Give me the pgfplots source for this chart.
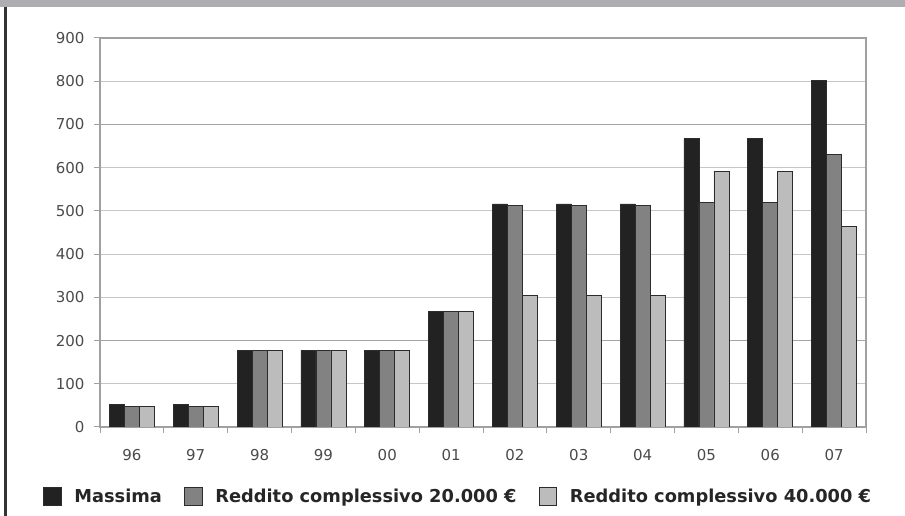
\documentclass[border=0pt]{standalone}
\usepackage{pgfplots}
\pgfplotsset{compat=1.18}
\usepackage{fontspec}
\setmainfont{DejaVu Sans}

\definecolor{bandgray}{HTML}{ADADB2}
\definecolor{framedark}{HTML}{333333}
\definecolor{gridgray}{HTML}{C6C6C6}
\definecolor{griddark}{HTML}{A6A6A6}
\definecolor{axisgray}{HTML}{A0A0A0}
\definecolor{labelgray}{HTML}{4A4A4A}
\definecolor{barblack}{HTML}{222222}
\definecolor{barmid}{HTML}{828282}
\definecolor{barlight}{HTML}{BCBCBC}
\definecolor{barline}{HTML}{2C2C2C}

\begin{document}
\begin{tikzpicture}[x=1pt,y=1pt]
\useasboundingbox (0,0) rectangle (905,516);
% frame of the page
\fill[bandgray] (0,509) rectangle (905,516);
\draw[line width=2.3pt, framedark] (5.5,0) -- (5.5,509);

\begin{axis}[
    at={(100pt,89pt)}, anchor=south west,
    scale only axis,
    width=766pt, height=389pt,
    ybar=0pt, bar width=15pt,
    xmin=-0.5, xmax=11.5,
    ymin=0, ymax=900,
    xtick={-0.5,0.5,...,11.5},
    x tick label as interval,
    xticklabels={96,97,98,99,00,01,02,03,04,05,06,07},
    ytick={0,100,...,900},
    extra y ticks={200,700},
    extra y tick labels={},
    extra y tick style={major grid style={griddark, line width=1.8pt}},
    ymajorgrids,
    major grid style={gridgray, line width=1.1pt},
    axis line style={axisgray, line width=1.1pt},
    tick style={axisgray, line width=1pt},
    tick align=outside, tick pos=left,
    major tick length=6pt,
    /pgf/number format/assume math mode=true,
    tick label style={font=\fontsize{15}{18}\selectfont, text=labelgray},
    x tick label style={yshift=-13pt},
    y tick label style={xshift=-6pt},
    legend columns=3,
    legend image code/.code={\draw[#1] (0pt,-8pt) rectangle (17.6pt,9.6pt);},
    legend style={
        at={(axis description cs:-0.0744,-0.1542)}, anchor=north west,
        draw=none, fill=none, inner sep=0pt, outer sep=0pt,
        font=\fontsize{17.8}{21}\selectfont\bfseries,
        text=black!85,
        nodes={inner sep=0pt, outer sep=0pt},
        /tikz/every odd column/.append style={column sep=13pt},
        /tikz/every even column/.append style={column sep=22pt},
    },
]

\addplot[fill=barblack, draw=barline, line width=0.8pt] coordinates {
    (0,52) (1,52) (2,178) (3,178) (4,178) (5,268)
    (6,516) (7,516) (8,516) (9,667) (10,667) (11,802)
};
\addlegendentry{Massima}

\addplot[fill=barmid, draw=barline, line width=0.8pt] coordinates {
    (0,47) (1,47) (2,178) (3,178) (4,178) (5,268)
    (6,513) (7,513) (8,513) (9,519) (10,519) (11,630)
};
\addlegendentry{Reddito complessivo 20.000 €}

\addplot[fill=barlight, draw=barline, line width=0.8pt] coordinates {
    (0,47) (1,47) (2,178) (3,178) (4,178) (5,268)
    (6,305) (7,305) (8,305) (9,592) (10,592) (11,464)
};
\addlegendentry{Reddito complessivo 40.000 €}

\end{axis}
\end{tikzpicture}
\end{document}
